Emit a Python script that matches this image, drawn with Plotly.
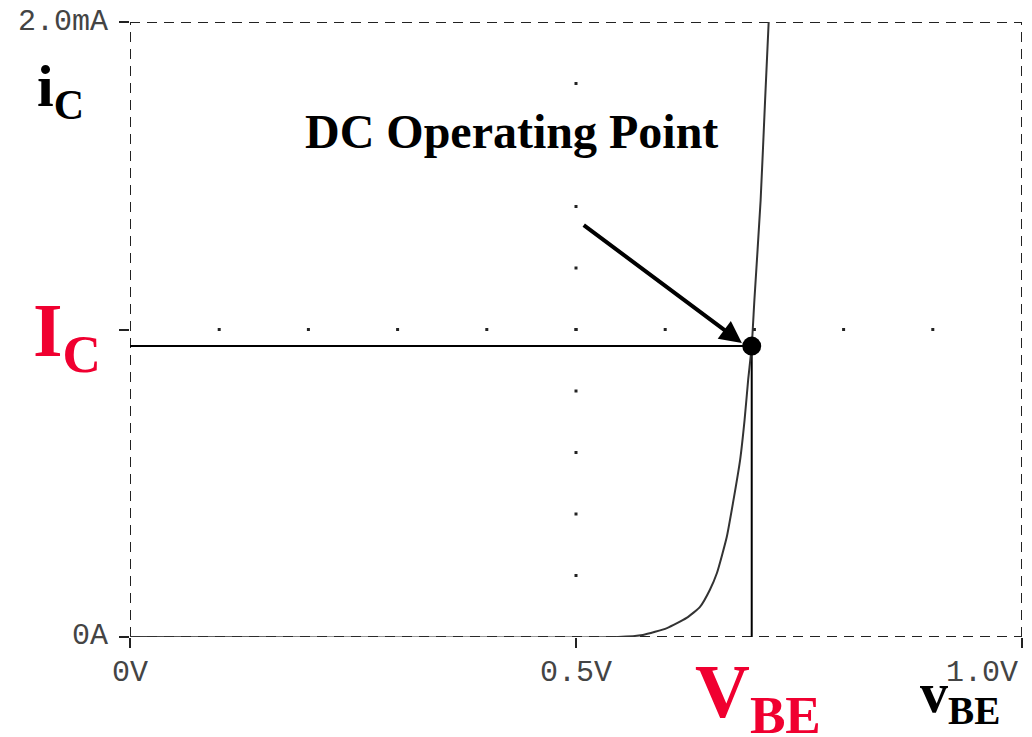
import plotly.graph_objects as go

# ---- data ----
vbe_V = [0.0, 0.547, 0.575, 0.602, 0.624, 0.639, 0.650, 0.658, 0.669, 0.676,
         0.684, 0.689, 0.693, 0.697, 0.700, 0.707, 0.712, 0.716]
ic_mA = [0.0, 0.0, 0.0065, 0.029, 0.062, 0.098, 0.153, 0.208, 0.325, 0.436,
         0.576, 0.706, 0.836, 0.946, 1.096, 1.421, 1.746, 2.0]

op_V = 0.697      # V_BE at the DC operating point
op_mA = 0.946     # I_C at the DC operating point

x_ticks = [0.0, 0.5, 1.0]
x_tick_labels = ["0V", "0.5V", "1.0V"]
y_ticks = [0.0, 1.0, 2.0]
y_label_vals = [0.0, 2.0]
y_tick_labels = ["0A", "2.0mA"]

grid_col_x = 0.5
grid_col_y = [0.2, 0.4, 0.6, 0.8, 1.0, 1.2, 1.4, 1.6, 1.8]
grid_row_y = 1.0
grid_row_x = [0.1, 0.2, 0.3, 0.4, 0.5, 0.6, 0.7, 0.8, 0.9]

arrow_tail = (0.507, 1.343)
arrow_head = (0.686, 0.956)

# page has an 8px body margin; plot area spans px 130..1022 x 22..637
OFF = 8
L, T, PW, PH = 130 - OFF, 22 - OFF, 892, 615


def px(xp, yp):
    """pixel position in the screenshot -> paper coordinates"""
    return (xp - 130) / PW, (637 - yp) / PH


fig = go.Figure()

# grid dots
fig.add_trace(go.Scatter(x=[grid_col_x] * len(grid_col_y) + grid_row_x,
                         y=grid_col_y + [grid_row_y] * len(grid_row_x),
                         mode="markers",
                         marker=dict(symbol="square", size=3, color="#222"),
                         hoverinfo="skip", showlegend=False))

# reference lines
fig.add_trace(go.Scatter(x=[0, op_V, op_V], y=[op_mA, op_mA, 0], mode="lines",
                         line=dict(color="black", width=2),
                         hoverinfo="skip", showlegend=False))

# curve
fig.add_trace(go.Scatter(x=vbe_V, y=ic_mA, mode="lines",
                         line=dict(color="#333", width=2, shape="spline", smoothing=0.5),
                         showlegend=False))

# operating point dot
fig.add_trace(go.Scatter(x=[op_V], y=[op_mA], mode="markers",
                         marker=dict(size=19, color="black"),
                         showlegend=False))

# dashed frame
frame = dict(color="#222", width=2, dash="10px,7px")
for x0, y0, x1, y1 in [(0, 0, 1, 0), (0, 2, 1, 2), (0, 0, 0, 2), (1, 0, 1, 2)]:
    fig.add_shape(type="line", x0=x0, y0=y0, x1=x1, y1=y1, xref="x", yref="y",
                  line=frame, layer="below")

tick_font = dict(family="Liberation Mono", size=30, color="#444")
ann = []
for v, t in zip(x_ticks, x_tick_labels):
    ann.append(dict(x=v, y=0, xref="x", yref="paper", text=t, showarrow=False,
                    xanchor="right" if v == 1.0 else "center", yanchor="middle",
                    yshift=-36, xshift=-2 if v == 1.0 else 0, font=tick_font))
for v, t in zip(y_label_vals, y_tick_labels):
    ann.append(dict(x=0, y=v, xref="paper", yref="y", text=t, showarrow=False,
                    xanchor="right", yanchor="middle", xshift=-20,
                    yshift=1 if v == 0 else 0, font=tick_font))

serif = "Liberation Serif"


def label(xp, yp, text, size, color):
    x, y = px(xp, yp)
    ann.append(dict(x=x, y=y, xref="paper", yref="paper", text=text,
                    showarrow=False, xanchor="center", yanchor="middle",
                    font=dict(family=serif, size=size, color=color)))


label(511, 131, "<b>DC Operating Point</b>", 48, "black")
label(60, 90, "<b>i<sub>C</sub></b>", 60, "black")
label(67, 336, "<b>I<sub>C</sub></b>", 76, "#f00030")
label(758, 697, "<b>V<sub>BE</sub></b>", 76, "#f00030")
label(960, 697, "<b>v<sub>BE</sub></b>", 56, "black")

# arrow
ann.append(dict(x=arrow_head[0], y=arrow_head[1], ax=arrow_tail[0], ay=arrow_tail[1],
                xref="x", yref="y", axref="x", ayref="y", text="", showarrow=True,
                arrowhead=2, arrowsize=1.1, arrowwidth=4, arrowcolor="black"))

fig.update_layout(
    width=1032 - OFF, height=737 - OFF,
    margin=dict(l=L, r=1032 - OFF - L - PW, t=T, b=737 - OFF - T - PH),
    paper_bgcolor="white", plot_bgcolor="white",
    xaxis=dict(range=[0, 1], showgrid=False, zeroline=False, showline=False,
               tickvals=x_ticks, ticks="outside", ticklen=10, tickwidth=2,
               tickcolor="#222", showticklabels=False, fixedrange=True),
    yaxis=dict(range=[0, 2], showgrid=False, zeroline=False, showline=False,
               tickvals=y_ticks, ticks="outside", ticklen=10, tickwidth=2,
               tickcolor="#222", showticklabels=False, fixedrange=True),
    annotations=ann,
    showlegend=False,
)

fig.write_html("out.html")
